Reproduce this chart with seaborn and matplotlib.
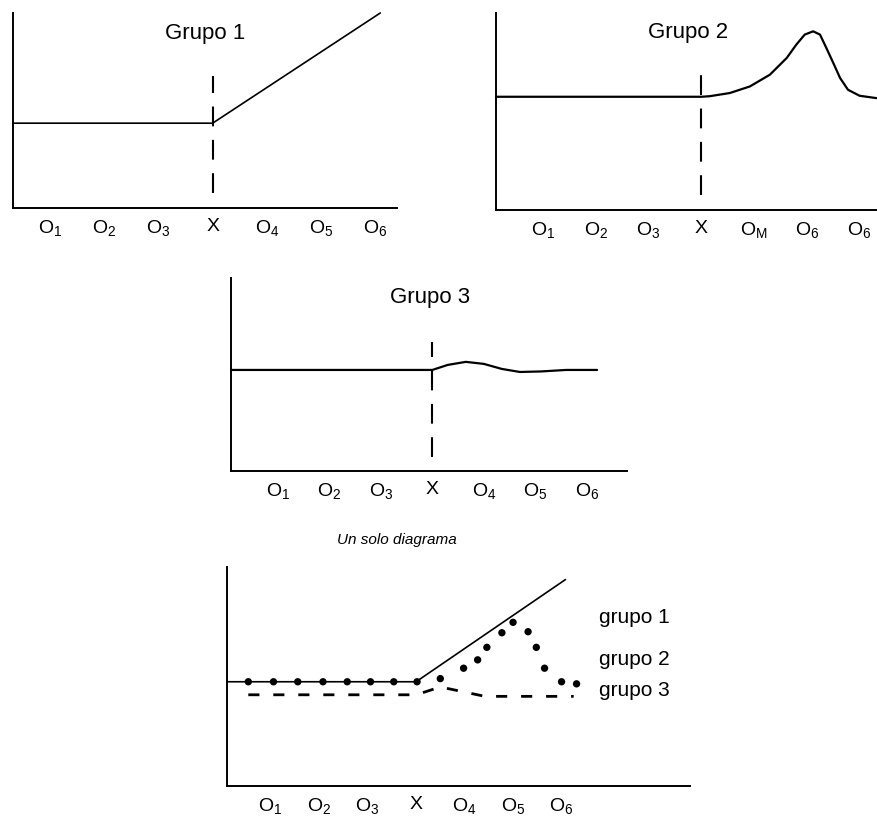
import matplotlib
matplotlib.use("Agg")
import matplotlib.pyplot as plt
import seaborn as sns

sns.set_style("white")
plt.rcParams["font.family"] = ["Liberation Sans", "DejaVu Sans"]
plt.rcParams["mathtext.default"] = "regular"
plt.rcParams["text.color"] = "black"
plt.rcParams["xtick.color"] = "black"

# tick labels shared by every panel
TICK_POS = [1, 2, 3, 4, 5, 6, 7]
TICK_LABELS = ["$O_1$", "$O_2$", "$O_3$", "X", "$O_4$", "$O_5$", "$O_6$"]
TICK_LABELS_G2 = ["$O_1$", "$O_2$", "$O_3$", "X", "$O_M$", "$O_6$", "$O_6$"]

# Grupo 1: flat then straight rise after X
g1_x = [0.32, 4.0, 7.09]
g1_y = [10, 10, 23]

# Grupo 2: flat then a hump after X
g2_x = [0.11, 4.0, 4.16, 4.54, 4.92, 5.30, 5.62, 5.80, 5.96, 6.12, 6.25, 6.37,
        6.50, 6.63, 6.78, 7.0, 7.32]
g2_y = [10, 10, 10.05, 10.33, 10.91, 11.95, 13.43, 14.6, 15.49, 15.78, 15.49, 14.31,
        13.0, 11.66, 10.62, 10.09, 9.88]

# Grupo 3: flat with a small wobble after X
g3_x = [0.09, 4.0, 4.3, 4.65, 5.0, 5.35, 5.7, 6.1, 6.6, 7.2]
g3_y = [10, 10, 10.5, 10.8, 10.6, 10.1, 9.8, 9.85, 10.0, 10.0]

# combined diagram
c1_x = [0.10, 4.0, 7.08]
c1_y = [10, 10, 19.8]
c2_x = [0.54, 1.06, 1.56, 2.08, 2.58, 3.06, 3.54, 4.02, 4.5, 4.98, 5.27, 5.46,
        5.77, 6.0, 6.31, 6.48, 6.65, 7.0, 7.31]
c2_y = [10, 10, 10, 10, 10, 10, 10, 10, 10.3, 11.3, 12.1, 13.3,
        14.7, 15.7, 14.8, 13.3, 11.3, 10, 9.8]
c3_x = [0.54, 4.0, 4.5, 5.42, 7.25]
c3_y = [8.75, 8.75, 9.5, 8.6, 8.6]

LEGEND_LABELS = ["grupo 1", "grupo 2", "grupo 3"]
LEGEND_Y = [16.2, 12.1, 9.2]


def style_axis(ax, xlim, ylim, labels):
    ax.set_xlim(*xlim)
    ax.set_ylim(*ylim)
    ax.set_xticks(TICK_POS)
    ax.set_xticklabels(labels, fontsize=14)
    ax.set_yticks([])
    ax.tick_params(axis="x", length=0, pad=7, colors="black")
    sns.despine(ax=ax)
    for side in ["left", "bottom"]:
        ax.spines[side].set_color("black")
        ax.spines[side].set_linewidth(1.4)
    ax.set_xlabel("")
    ax.set_ylabel("")
    ax.patch.set_alpha(0)


def treatment_line(ax, y0, y1):
    ax.vlines(4, y0, y1, color="black", lw=1.5, linestyles=(0, (9.5, 6.5)))


fig = plt.figure(figsize=(8.77, 8.21), dpi=100)

ax1 = fig.add_axes([0.0148, 0.7467, 0.438, 0.2375])
sns.lineplot(x=g1_x, y=g1_y, ax=ax1, color="black", lw=1.2, clip_on=False)
treatment_line(ax1, 1.8, 15.6)
style_axis(ax1, (0.32, 7.4), (0, 23), TICK_LABELS)
ax1.text(0.5, 0.897, "Grupo 1", transform=ax1.transAxes, ha="center", va="center", fontsize=16)

ax2 = fig.add_axes([0.5656, 0.7442, 0.4344, 0.24])
sns.lineplot(x=g2_x, y=g2_y, ax=ax2, color="black", lw=1.6, clip_on=False)
treatment_line(ax2, 1.3, 11.9)
style_axis(ax2, (0.11, 7.33), (0, 17.4), TICK_LABELS_G2)
ax2.text(0.504, 0.9, "Grupo 2", transform=ax2.transAxes, ha="center", va="center", fontsize=16)

ax3 = fig.add_axes([0.2634, 0.4263, 0.4515, 0.2351])
sns.lineplot(x=g3_x, y=g3_y, ax=ax3, color="black", lw=1.6)
treatment_line(ax3, 1.4, 12.8)
style_axis(ax3, (0.09, 7.78), (0, 19.1), TICK_LABELS)
ax3.text(0.503, 0.9, "Grupo 3", transform=ax3.transAxes, ha="center", va="center", fontsize=16)

fig.text(0.4527, 0.342, "Un solo diagrama", ha="center", va="center", fontsize=11, style="italic")

ax4 = fig.add_axes([0.2588, 0.0426, 0.528, 0.2667])
sns.lineplot(x=c1_x, y=c1_y, ax=ax4, color="black", lw=1.2)
sns.lineplot(x=c3_x, y=c3_y, ax=ax4, color="black", lw=2.0, linestyle=(0, (4, 5)))
sns.scatterplot(x=c2_x, y=c2_y, ax=ax4, color="black", s=28, edgecolor="none", zorder=3)
style_axis(ax4, (0.10, 9.65), (0, 21), TICK_LABELS)
for label, y in zip(LEGEND_LABELS, LEGEND_Y):
    ax4.text(7.77, y, label, ha="left", va="center", fontsize=15)

fig.savefig("out.png", dpi=100)
